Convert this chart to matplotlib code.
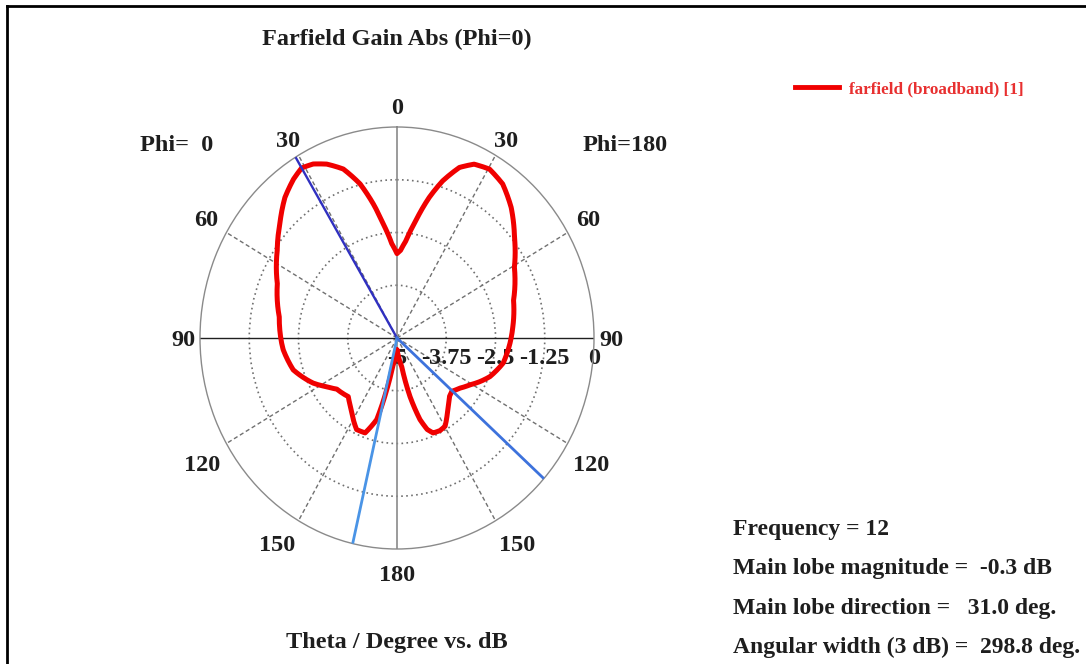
import numpy as np
import matplotlib
matplotlib.use("Agg")
import matplotlib.pyplot as plt
from matplotlib.lines import Line2D
from matplotlib.patches import PathPatch
from matplotlib.path import Path

# Farfield gain (dB) vs theta (deg); positive theta = Phi=0 side (left), negative = Phi=180 side (right)
theta_deg = [-180, -176, -170, -166.6, -163.2, -160.5, -157.8, -153.5, -149.7, -145, -141.3,
             -136, -132.3, -127, -120.9, -116, -111.2, -102.4, -92.5, -85, -73.2, -60.6,
             -51.3, -43.1, -36.3, -30.4, -25.4, -21.4, -17.3, -13.8, -9.8, -5.7, -2.5, 0,
             3.4, 7.4, 10.7, 14.4, 18.8, 23.4, 27.3, 31, 34.9, 40.5, 47.7, 55.7, 67, 80.5,
             92.4, 95.6, 106, 116.7, 123, 128.4, 138.3, 143, 147, 154.7, 160.2, 165.1, 168,
             170.7, 175, 180]
gain_db = [-4.72, -4.6, -4.31, -3.57, -2.98, -2.70, -2.57, -2.55, -2.58, -2.78, -2.92,
           -3.08, -3.12, -3.02, -2.84, -2.65, -2.47, -2.24, -2.13, -2.05, -1.91, -1.58,
           -1.18, -0.76, -0.47, -0.36, -0.44, -0.66, -1.10, -1.57, -2.17, -2.68, -2.92, -3.0,
           -2.76, -2.27, -1.77, -1.23, -0.77, -0.51, -0.36, -0.30, -0.41, -0.62, -0.98, -1.32,
           -1.70, -1.97, -2.07, -2.10, -2.26, -2.62, -2.88, -3.05, -3.14, -3.02, -2.89, -2.60,
           -2.61, -3.0, -3.75, -4.32, -4.55, -4.72]

main_lobe_dir = 31.0
beam_edges = [167.0, -131.8]

tick_angles = [0, 30, 60, 90, 120, 150, 180, -30, -60, -90, -120, -150]
ring_vals = [-5, -3.75, -2.5, -1.25, 0]
ring_labels = ["-5", "-3.75", "-2.5", "-1.25", "0"]

info_lines = ["Frequency = 12",
              "Main lobe magnitude =  -0.3 dB",
              "Main lobe direction =   31.0 deg.",
              "Angular width (3 dB) =  298.8 deg."]

plt.rcParams['font.family'] = ['Liberation Serif', 'DejaVu Serif']
plt.rcParams['font.weight'] = 'bold'
TXT = '#1e1e1e'
FS = 17.5
RED = '#f00000'

W, H = 1086, 664
fig = plt.figure(figsize=(W / 100, H / 100), dpi=100)

ax = fig.add_axes([200 / W, (H - 549) / H, 394 / W, 422 / H], projection='polar')
ax.set_aspect('auto')
ax.set_theta_zero_location('N')
ax.set_theta_direction(1)
ax.set_ylim(-5, 0)

ax.set_thetagrids([30, 60, 120, 150, 210, 240, 300, 330], labels=[''] * 8)
ax.set_rgrids([-3.75, -2.5, -1.25], labels=[''] * 3)
ax.grid(axis='x', color='#707070', linestyle=(0, (3, 2)), linewidth=1.0)
ax.grid(axis='y', color='#707070', linestyle=(0, (1, 2)), linewidth=1.2)
ax.spines['polar'].set_color('#8a8a8a')
ax.spines['polar'].set_linewidth(1.0)

# solid main axes
for a in [0, 180]:
    ax.plot(np.deg2rad([a, a]), [-5, 0], color='#8a8a8a', lw=1.2, zorder=2)
for a in [90, -90]:
    ax.plot(np.deg2rad([a, a]), [-5, 0], color='#202020', lw=1.0, zorder=2)

# gain curve as a path so segments follow the polar grid (arcs, not chords)
curve = Path(np.column_stack([np.deg2rad(theta_deg), gain_db]), _interpolation_steps=12)
ax.add_patch(PathPatch(curve, fill=False, edgecolor=RED, lw=3.6, joinstyle='round',
                       capstyle='round', zorder=3))

ax.plot(np.deg2rad([main_lobe_dir] * 2), [-5, 0], color='#3030c0', lw=1.7, zorder=4)
ax.plot(np.deg2rad([beam_edges[0]] * 2), [-5, 0], color='#4a94e6', lw=2.0, zorder=4)
ax.plot(np.deg2rad([beam_edges[1]] * 2), [-5, 0], color='#3d72dc', lw=2.0, zorder=4)

# angle labels (label placement in theta/r, tuned by eye)
lab_pos = {0: (0, 0.5), 30: (30.5, 0.46), 60: (59.7, 0.62), 90: (90, 0.43),
           120: (121, 0.76), 150: (148, 0.73), 180: (180, 0.56)}
for a in tick_angles:
    th, r = lab_pos[abs(a)]
    th = th if a >= 0 else -th
    ax.text(np.deg2rad(th), r, str(abs(a)), ha='center', va='center_baseline', fontsize=FS,
            color=TXT, clip_on=False)

# radial labels (sit under the curve, as in the original)
for v, s in zip(ring_vals, ring_labels):
    ax.annotate(s, xy=(np.deg2rad(-90), v), xytext=(0, -13), textcoords='offset points',
                ha='center', va='center_baseline', fontsize=FS, color=TXT,
                annotation_clip=False, zorder=2.5)

ax.set_xticklabels([])

# texts
fig.text(397 / W, 1 - 37 / H, 'Farfield Gain Abs (Phi=0)', ha='center', va='center_baseline',
         fontsize=FS, color=TXT)
fig.text(177 / W, 1 - 143 / H, 'Phi=  0', ha='center', va='center_baseline', fontsize=FS, color=TXT)
fig.text(625 / W, 1 - 143 / H, 'Phi=180', ha='center', va='center_baseline', fontsize=FS, color=TXT)
fig.text(397 / W, 1 - 640 / H, 'Theta / Degree vs. dB', ha='center', va='center_baseline',
         fontsize=FS, color=TXT)
for i, s in enumerate(info_lines):
    fig.text(733 / W, 1 - (527 + 39.3 * i) / H, s, ha='left', va='center_baseline',
             fontsize=17, color=TXT)

handle = Line2D([], [], color=RED, lw=3.5, label='farfield (broadband) [1]')
fig.legend(handles=[handle], loc='center left', bbox_to_anchor=(795 / W, 1 - 89 / H),
           frameon=False, fontsize=12.3, labelcolor='#e83030', handlelength=2.6,
           handletextpad=0.55, borderpad=0, borderaxespad=0)

# frame
fig.add_artist(Line2D([7 / W, 1], [1 - 6 / H, 1 - 6 / H], transform=fig.transFigure,
                      color='black', lw=2))
fig.add_artist(Line2D([7 / W, 7 / W], [0, 1 - 6 / H], transform=fig.transFigure,
                      color='black', lw=2))

fig.savefig('out.png', dpi=100)
